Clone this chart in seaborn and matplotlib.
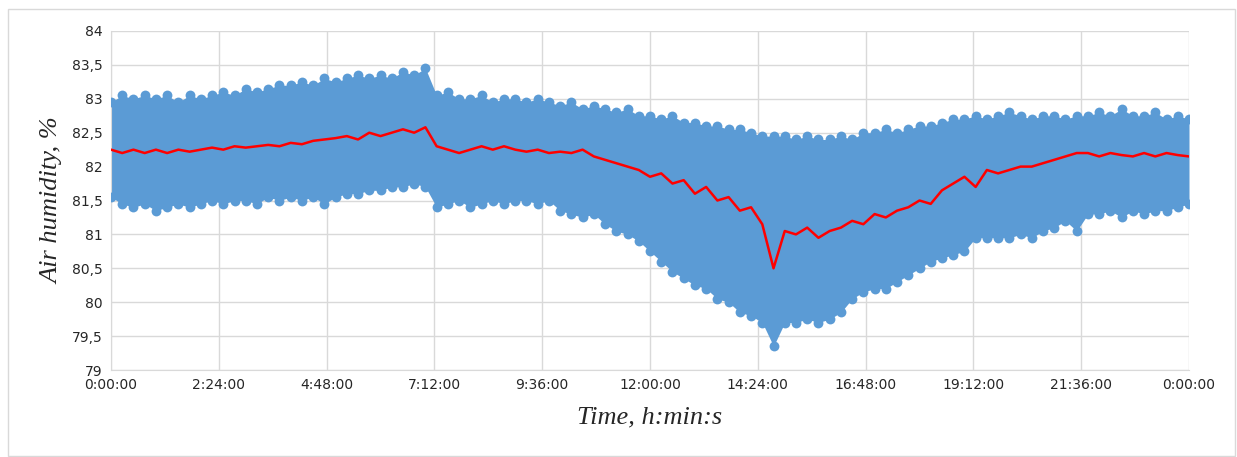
import numpy as np
import pandas as pd
import matplotlib
matplotlib.use("Agg")
import matplotlib.pyplot as plt
import seaborn as sns

# sampling grid: every 15 minutes over one day (hours)
hours = np.arange(0, 24.01, 0.25)

# upper edge of the measured cloud, %
upper = [82.95, 83.05, 83.0, 83.05,   83.0, 83.05, 82.95, 83.05,
         83.0, 83.05, 83.1, 83.05,    83.15, 83.1, 83.15, 83.2,
         83.2, 83.25, 83.2, 83.3,     83.25, 83.3, 83.35, 83.3,
         83.35, 83.3, 83.4, 83.35,    83.45, 83.05, 83.1, 83.0,
         83.0, 83.05, 82.95, 83.0,    83.0, 82.95, 83.0, 82.95,
         82.9, 82.95, 82.85, 82.9,    82.85, 82.8, 82.85, 82.75,
         82.75, 82.7, 82.75, 82.65,   82.65, 82.6, 82.6, 82.55,
         82.55, 82.5, 82.45, 82.45,   82.45, 82.4, 82.45, 82.4,
         82.4, 82.45, 82.4, 82.5,     82.5, 82.55, 82.5, 82.55,
         82.6, 82.6, 82.65, 82.7,     82.7, 82.75, 82.7, 82.75,
         82.8, 82.75, 82.7, 82.75,    82.75, 82.7, 82.75, 82.75,
         82.8, 82.75, 82.85, 82.75,   82.75, 82.8, 82.7, 82.75,
         82.7]

# lower edge of the measured cloud, %
lower = [81.55, 81.45, 81.4, 81.45,   81.35, 81.4, 81.45, 81.4,
         81.45, 81.5, 81.45, 81.5,    81.5, 81.45, 81.55, 81.5,
         81.55, 81.5, 81.55, 81.45,   81.55, 81.6, 81.6, 81.65,
         81.65, 81.7, 81.7, 81.75,    81.7, 81.4, 81.45, 81.5,
         81.4, 81.45, 81.5, 81.45,    81.5, 81.5, 81.45, 81.5,
         81.35, 81.3, 81.25, 81.3,    81.15, 81.05, 81.0, 80.9,
         80.75, 80.6, 80.45, 80.35,   80.25, 80.2, 80.05, 80.0,
         79.85, 79.8, 79.7, 79.35,    79.7, 79.7, 79.75, 79.7,
         79.75, 79.85, 80.05, 80.15,  80.2, 80.2, 80.3, 80.4,
         80.5, 80.6, 80.65, 80.7,     80.75, 80.95, 80.95, 80.95,
         80.95, 81.0, 80.95, 81.05,   81.1, 81.2, 81.05, 81.3,
         81.3, 81.35, 81.25, 81.35,   81.3, 81.35, 81.35, 81.4,
         81.45]

# moving average (red), %
average = [82.25, 82.2, 82.25, 82.2,   82.25, 82.2, 82.25, 82.22,
           82.25, 82.28, 82.25, 82.3,  82.28, 82.3, 82.32, 82.3,
           82.35, 82.33, 82.38, 82.4,  82.42, 82.45, 82.4, 82.5,
           82.45, 82.5, 82.55, 82.5,   82.58, 82.3, 82.25, 82.2,
           82.25, 82.3, 82.25, 82.3,   82.25, 82.22, 82.25, 82.2,
           82.22, 82.2, 82.25, 82.15,  82.1, 82.05, 82.0, 81.95,
           81.85, 81.9, 81.75, 81.8,   81.6, 81.7, 81.5, 81.55,
           81.35, 81.4, 81.15, 80.5,   81.05, 81.0, 81.1, 80.95,
           81.05, 81.1, 81.2, 81.15,   81.3, 81.25, 81.35, 81.4,
           81.5, 81.45, 81.65, 81.75,  81.85, 81.7, 81.95, 81.9,
           81.95, 82.0, 82.0, 82.05,   82.1, 82.15, 82.2, 82.2,
           82.15, 82.2, 82.17, 82.15,  82.2, 82.15, 82.2, 82.17,
           82.15]

tick_hours = [0, 2.4, 4.8, 7.2, 9.6, 12, 14.4, 16.8, 19.2, 21.6, 24]
tick_labels = ["0:00:00", "2:24:00", "4:48:00", "7:12:00", "9:36:00", "12:00:00",
               "14:24:00", "16:48:00", "19:12:00", "21:36:00", "0:00:00"]
y_ticks = [79, 79.5, 80, 80.5, 81, 81.5, 82, 82.5, 83, 83.5, 84]

df = pd.DataFrame({"hours": hours, "upper": upper, "lower": lower, "average": average})
edges = pd.concat([df[["hours", "upper"]].rename(columns={"upper": "rh"}),
                   df[["hours", "lower"]].rename(columns={"lower": "rh"})])

sns.set_style("white")
blue = "#5b9bd5"
grid = "#d9d9d9"

fig = plt.figure(figsize=(12.37, 4.57), dpi=100)
ax = fig.add_axes([111 / 1237, 87 / 457, 1078 / 1237, 339 / 457])

# blue measurement cloud
ax.fill_between(df["hours"], df["lower"], df["upper"], color=blue, lw=0, zorder=2)
sns.scatterplot(data=edges, x="hours", y="rh", color=blue, s=50, edgecolor=blue,
                linewidth=0, ax=ax, zorder=3, legend=False)

# red average
sns.lineplot(data=df, x="hours", y="average", color="#ff0000", lw=1.8, ax=ax, zorder=4)

ax.set_xlim(0, 24)
ax.set_ylim(79, 84)
ax.set_xticks(tick_hours)
ax.set_xticklabels(tick_labels)
ax.set_yticks(y_ticks)
ax.set_yticklabels([f"{v:g}".replace(".", ",") for v in y_ticks])
ax.tick_params(axis="both", labelsize=10, length=0, colors="#262626", pad=6)
ax.grid(True, color=grid, lw=1, zorder=0)
ax.set_axisbelow(True)
for side in ["top", "right"]:
    ax.spines[side].set_visible(False)
for side in ["left", "bottom"]:
    ax.spines[side].set_color(grid)

ax.set_xlabel("Time, h:min:s", family="Liberation Serif", style="italic",
              fontsize=19, color="#262626", labelpad=10)
ax.set_ylabel("Air humidity, %", family="Liberation Serif", style="italic",
              fontsize=19, color="#262626", labelpad=6)

# chart frame
fig.patches.append(plt.Rectangle((8 / 1237, 0.002), 1227 / 1237, 447 / 457,
                                 transform=fig.transFigure, fill=False,
                                 edgecolor=grid, lw=1))

fig.savefig("out.png", dpi=100)
